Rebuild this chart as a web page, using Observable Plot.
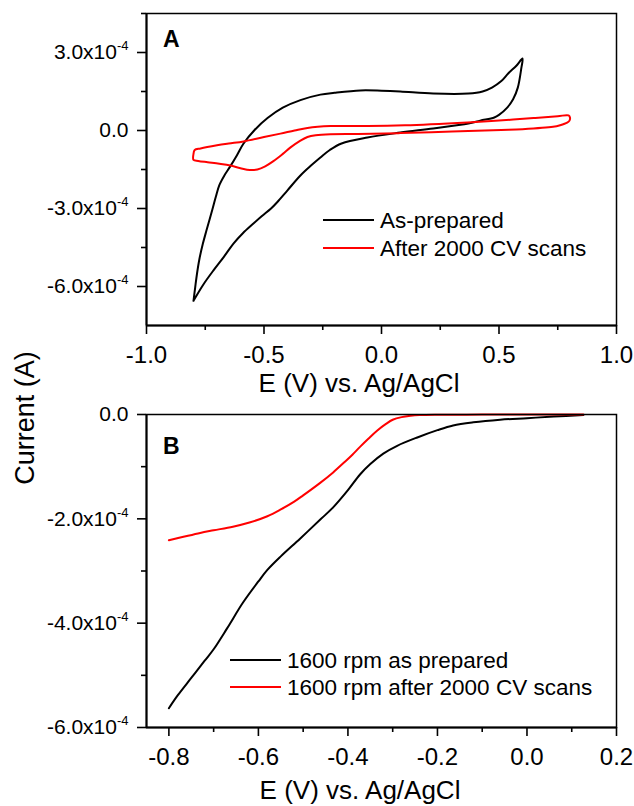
<!DOCTYPE html>
<html><head><meta charset="utf-8">
<script src="https://cdn.jsdelivr.net/npm/d3@7"></script>
<script src="https://cdn.jsdelivr.net/npm/@observablehq/plot@0.6"></script>
<style>
body{margin:0;background:#fff;}
#root{position:relative;width:634px;height:806px;font-family:"Liberation Sans",Arial,sans-serif;}
#root svg{position:absolute;left:0;}
</style></head><body><div id="root"></div>
<script>
// ---- Panel A: cyclic voltammetry (current in units of 1e-4 A) ----
const cvAsPreparedE = [-0.8,-0.793,-0.785,-0.775,-0.76,-0.745,-0.72,-0.705,-0.69,-0.668,-0.645,-0.615,-0.587,-0.54,-0.485,-0.42,-0.345,-0.26,-0.2,-0.09,0.0,0.08,0.22,0.37,0.43,0.47,0.51,0.54,0.575,0.6,0.595,0.58,0.56,0.535,0.5,0.48,0.42,0.37,0.22,0.08,-0.06,-0.17,-0.22,-0.26,-0.3,-0.345,-0.4,-0.443,-0.47,-0.51,-0.545,-0.59,-0.63,-0.67,-0.715,-0.76,-0.8];
const cvAsPreparedI = [-6.55,-6.05,-5.5,-4.95,-4.35,-3.85,-3.05,-2.55,-2.1,-1.72,-1.4,-0.95,-0.5,0.02,0.48,0.88,1.17,1.38,1.45,1.54,1.53,1.5,1.42,1.42,1.5,1.65,1.9,2.2,2.5,2.77,2.4,1.65,1.2,0.88,0.6,0.5,0.38,0.27,0.08,-0.08,-0.27,-0.5,-0.75,-1.04,-1.35,-1.73,-2.3,-2.75,-3.0,-3.3,-3.58,-3.95,-4.35,-4.85,-5.38,-5.95,-6.55];
const cvAfterE = [-0.8,-0.795,-0.77,-0.7,-0.65,-0.587,-0.5,-0.43,-0.37,-0.315,-0.217,-0.06,0.1,0.366,0.5,0.647,0.75,0.796,0.802,0.8,0.79,0.76,0.73,0.6,0.51,0.3,0.08,-0.1,-0.217,-0.28,-0.315,-0.35,-0.387,-0.42,-0.46,-0.495,-0.528,-0.56,-0.6,-0.643,-0.69,-0.74,-0.78,-0.8,-0.8];
const cvAfterI = [-0.9,-0.75,-0.69,-0.57,-0.5,-0.42,-0.25,-0.12,0.0,0.1,0.17,0.17,0.2,0.31,0.38,0.48,0.55,0.58,0.5,0.38,0.3,0.2,0.14,0.05,0.02,-0.04,-0.1,-0.13,-0.14,-0.18,-0.25,-0.42,-0.65,-0.9,-1.18,-1.38,-1.5,-1.52,-1.45,-1.35,-1.28,-1.22,-1.17,-1.13,-0.9];

// ---- Panel B: linear sweep voltammetry at 1600 rpm (1e-4 A) ----
const lsvAsPreparedE = [-0.8,-0.78,-0.75,-0.72,-0.7,-0.67,-0.634,-0.6,-0.58,-0.55,-0.507,-0.46,-0.433,-0.4,-0.373,-0.35,-0.321,-0.29,-0.245,-0.2,-0.165,-0.12,-0.06,0.0,0.06,0.126];
const lsvAsPreparedI = [-5.63,-5.38,-5.05,-4.72,-4.5,-4.1,-3.6,-3.2,-2.98,-2.72,-2.38,-2.0,-1.78,-1.45,-1.15,-0.95,-0.75,-0.6,-0.44,-0.3,-0.21,-0.15,-0.1,-0.07,-0.04,-0.01];
const lsvAfterE = [-0.8,-0.77,-0.73,-0.7,-0.657,-0.62,-0.58,-0.55,-0.52,-0.5,-0.462,-0.433,-0.406,-0.39,-0.373,-0.355,-0.335,-0.315,-0.3,-0.28,-0.26,-0.24,-0.2,-0.1,0.0,0.126];
const lsvAfterI = [-2.41,-2.35,-2.27,-2.22,-2.15,-2.07,-1.95,-1.82,-1.67,-1.55,-1.31,-1.11,-0.9,-0.77,-0.62,-0.47,-0.31,-0.18,-0.1,-0.05,-0.025,-0.012,-0.005,-0.002,0,0];

const UNIT = 1e-4;
const seriesA = ["As-prepared", "After 2000 CV scans"];
const seriesB = ["1600 rpm as prepared", "1600 rpm after 2000 CV scans"];
const colors = ["#000000", "#ff0000"];

const xTicksA = [-1.0,-0.5,0.0,0.5,1.0];
const xMinorA = [-0.75,-0.25,0.25,0.75];
const yTicksA = [3,0,-3,-6];
const yMinorA = [4.5,1.5,-1.5,-4.5];
const xTicksB = [-0.8,-0.6,-0.4,-0.2,0.0,0.2];
const xMinorB = [-0.7,-0.5,-0.3,-0.1,0.1];
const yTicksB = [0,-2,-4,-6];
const yMinorB = [-1,-3,-5];

const toRows = (E, I) => E.map((e, i) => ({E: e, I: I[i] * UNIT}));
const fontFamily = '"Liberation Sans", Arial, sans-serif';
const yFmt = d => d === 0 ? "0.0" : (d).toFixed(1) + "x10|-4";

function axes(xT, xM, yT, yM, xDom, yDom) {
  return [
    Plot.axisX(xT, {tickSize: 9, tickPadding: 11, tickFormat: d => d.toFixed(1), fontSize: 24, strokeWidth: 1.6, label: null}),
    Plot.axisX(xM, {tickSize: 5, tickFormat: () => "", strokeWidth: 1.6, label: null}),
    Plot.axisY(yT.map(v => v * UNIT), {tickSize: 9, tickPadding: 9, tickFormat: d => yFmt(Math.round(d / UNIT * 10) / 10), fontSize: 21, strokeWidth: 1.6, label: null}),
    Plot.axisY(yM.map(v => v * UNIT), {tickSize: 5, tickFormat: () => "", strokeWidth: 1.6, label: null}),
    Plot.frame({stroke: "#000", strokeWidth: 1.5}),
    Plot.ruleX([xDom[0]], {stroke: "#000", strokeWidth: 2}),
    Plot.ruleY([yDom[0]], {stroke: "#000", strokeWidth: 2})
  ];
}

function fixSup(svg) {
  svg.querySelectorAll("text").forEach(t => {
    const s = t.textContent;
    if (!s.includes("|")) return;
    const [main, sup] = s.split("|");
    while (t.firstChild) t.removeChild(t.firstChild);
    const ns = "http://www.w3.org/2000/svg";
    const a = document.createElementNS(ns, "tspan"); a.textContent = main;
    const b = document.createElementNS(ns, "tspan"); b.textContent = sup;
    b.setAttribute("dy", "-9"); b.setAttribute("font-size", "13");
    t.appendChild(a); t.appendChild(b);
  });
}

const root = document.getElementById("root");

const xDomA = [-1, 1], yDomA = [-7.5 * UNIT, 4.5 * UNIT];
const chartA = Plot.plot({
  width: 634, height: 370,
  marginLeft: 146, marginRight: 18, marginTop: 13, marginBottom: 45,
  style: {fontFamily, color: "#000", background: "transparent", overflow: "visible"},
  x: {domain: xDomA},
  y: {domain: yDomA},
  marks: [
    Plot.line(toRows(cvAsPreparedE, cvAsPreparedI), {x: "E", y: "I", stroke: colors[0], strokeWidth: 2, curve: "catmull-rom"}),
    Plot.line(toRows(cvAfterE, cvAfterI), {x: "E", y: "I", stroke: colors[1], strokeWidth: 2, curve: "catmull-rom"}),
    ...axes(xTicksA, xMinorA, yTicksA, yMinorA, xDomA, yDomA)
  ]
});
fixSup(chartA);
chartA.style.top = "0px";
root.appendChild(chartA);

const xDomB = [-0.85, 0.2], yDomB = [-6 * UNIT, 0];
const chartB = Plot.plot({
  width: 634, height: 436,
  marginLeft: 146, marginRight: 18, marginTop: 44, marginBottom: 79,
  style: {fontFamily, color: "#000", background: "transparent", overflow: "visible"},
  x: {domain: xDomB},
  y: {domain: yDomB},
  marks: [
    Plot.line(toRows(lsvAsPreparedE, lsvAsPreparedI), {x: "E", y: "I", stroke: colors[0], strokeWidth: 2, curve: "catmull-rom"}),
    Plot.line(toRows(lsvAfterE, lsvAfterI), {x: "E", y: "I", stroke: colors[1], strokeWidth: 2, curve: "catmull-rom"}),
    ...axes(xTicksB, xMinorB, yTicksB, yMinorB, xDomB, yDomB)
  ]
});
fixSup(chartB);
chartB.style.top = "370px";
root.appendChild(chartB);

// ---- overlay: titles, panel letters, legends ----
const ov = d3.select(root).append("svg")
  .attr("width", 634).attr("height", 806)
  .style("top", "0px").style("pointer-events", "none")
  .style("font-family", fontFamily);

ov.append("text").attr("x", 163).attr("y", 47).attr("font-size", 23).attr("font-weight", "bold").text("A");
ov.append("text").attr("x", 163).attr("y", 454).attr("font-size", 23).attr("font-weight", "bold").text("B");
ov.append("text").attr("x", 359).attr("y", 392).attr("font-size", 26).attr("text-anchor", "middle").text("E (V) vs. Ag/AgCl");
ov.append("text").attr("x", 360).attr("y", 799).attr("font-size", 26).attr("text-anchor", "middle").text("E (V) vs. Ag/AgCl");
ov.append("text").attr("transform", "translate(34,418) rotate(-90)").attr("font-size", 27).attr("text-anchor", "middle").text("Current (A)");

function legend(names, x0, y0, gap) {
  names.forEach((n, i) => {
    const y = y0 + i * gap;
    ov.append("line").attr("x1", x0).attr("x2", x0 + 51).attr("y1", y).attr("y2", y)
      .attr("stroke", colors[i]).attr("stroke-width", 2);
    ov.append("text").attr("x", x0 + 57).attr("y", y + 8).attr("font-size", 22.5).text(n);
  });
}
legend(seriesA, 323, 220, 28);
legend(seriesB, 230, 660, 27);
</script></body></html>
